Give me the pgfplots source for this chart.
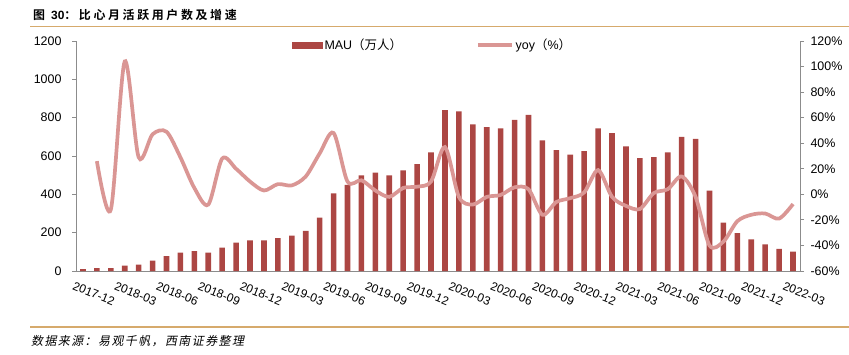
\documentclass[border=0pt]{standalone}
\usepackage{pgfplots}
\pgfplotsset{compat=1.18}
\usepackage{pgfplotstable}
\usepackage{fontspec}
\setmainfont{Liberation Sans}
\newfontfamily\cjk{Noto Sans CJK SC}[BoldFont={Noto Sans CJK SC Bold}]
\newfontfamily\cjktitle{Noto Sans CJK SC Bold}[LetterSpace=22]
\newfontfamily\cjkit{Noto Sans CJK SC}[FakeSlant=0.2,LetterSpace=12]
\definecolor{barred}{RGB}{172,70,67}
\definecolor{linepink}{RGB}{218,150,148}
\definecolor{axgray}{RGB}{140,140,140}
\definecolor{gold}{RGB}{214,170,108}

\pgfplotstableread{
idx mau
0 10
1 15
2 15
3 28
4 33
5 54
6 78
7 96
8 104
9 96
10 122
11 148
12 160
13 160
14 172
15 184
16 209
17 279
18 405
19 450
20 499
21 513
22 499
23 525
24 557
25 619
26 840
27 833
28 765
29 751
30 744
31 789
32 814
33 682
34 631
35 607
36 625
37 744
38 720
39 650
40 589
41 594
42 619
43 700
44 689
45 419
46 252
47 197
48 165
49 139
50 115
51 101
}\maudata

\pgfplotstableread{
idx yoy
1 26
2 -12
3 104
4 29
5 47
6 49
7 29
8 5
9 -8
10 28
11 20
12 10
13 3
14 8
15 7
16 14
17 32
18 48
19 10
20 11
21 3
22 -2
23 5
24 6
25 10
26 37
27 -2
28 -8
29 -2
30 -0.5
31 5.5
32 4
33 -16
34 -6
35 -3
36 1.5
37 19
38 -2
39 -9
40 -11.5
41 1
42 4
43 14
44 -2
45 -40
46 -37
47 -21
48 -16
49 -15
50 -19
51 -7.6
}\yoydata

\begin{document}
\begin{tikzpicture}
\path[use as bounding box] (0bp,0bp) rectangle (849bp,-355bp);
\node[anchor=base west, inner sep=0] at (33bp,-19bp) {\fontsize{12}{14}\selectfont{\cjktitle 图} \textbf{30}{\cjktitle ：比心月活跃用户数及增速}};
\draw[gold, line width=1.6bp] (30bp,-26.5bp) -- (849bp,-26.5bp);
\draw[gold, line width=1.6bp] (30bp,-327bp) -- (849bp,-327bp);
\node[anchor=base west, inner sep=0] at (31bp,-345bp) {\fontsize{12}{14}\selectfont\cjkit 数据来源：易观千帆，西南证券整理};

\begin{axis}[
  at={(76bp,-271bp)}, anchor=south west, scale only axis,
  width=724bp, height=230bp,
  xmin=-0.5, xmax=51.5, ymin=0, ymax=1200,
  axis x line*=bottom, axis y line*=left,
  axis line style={draw=axgray, line width=0.9bp, -},
  ytick={0,200,...,1200},
  tick align=outside, major tick length=4bp,
  ytick style={draw=axgray, line width=0.9bp},
  xtick={0,3,...,51}, xtick style={draw=none},
  xticklabels={2017-12,2018-03,2018-06,2018-09,2018-12,2019-03,2019-06,2019-09,2019-12,2020-03,2020-06,2020-09,2020-12,2021-03,2021-06,2021-09,2021-12,2022-03},
  xticklabel style={rotate=-22, anchor=north west, font=\fontsize{12}{14}\selectfont, inner sep=1bp, xshift=-6bp, yshift=-8bp},
  yticklabel style={font=\fontsize{12.5}{14}\selectfont, xshift=-7bp},
  /pgf/number format/assume math mode=true,
  /pgf/number format/1000 sep={},
  ybar, bar width=5.6bp,
]
\addplot[fill=barred, draw=none] table[x=idx,y=mau]{\maudata};
\end{axis}

\begin{axis}[
  at={(76bp,-271bp)}, anchor=south west, scale only axis,
  width=724bp, height=230bp,
  xmin=-0.5, xmax=51.5, ymin=-60, ymax=120,
  axis y line*=right, axis x line=none,
  axis line style={draw=axgray, line width=0.9bp, -},
  ytick={-60,-40,...,120},
  tick align=outside, major tick length=4bp,
  ytick style={draw=axgray, line width=0.9bp},
  yticklabel={\pgfmathprintnumber{\tick}\%},
  yticklabel style={font=\fontsize{12.5}{14}\selectfont, xshift=3bp},
  /pgf/number format/assume math mode=true,
  legend style={at={(0.2983,1)}, anchor=north west, yshift=4bp, inner sep=0pt, draw=none, fill=none,
    font=\fontsize{12.5}{14}\selectfont, legend columns=2,
    /tikz/every even column/.append style={column sep=72bp}},
  legend cell align=left,
]
\addlegendimage{legend image code/.code={\fill[barred] (0bp,-3bp) rectangle (30bp,3bp);}}
\addlegendentry{MAU{\cjk（万人）}}
\addplot[linepink, line width=3.7bp, smooth, mark=none,
  legend image code/.code={\draw[linepink, line width=3.7bp] (0bp,0bp) -- (34bp,0bp);}]
  table[x=idx,y=yoy]{\yoydata};
\addlegendentry{yoy{\cjk（}\%{\cjk）}}
\end{axis}
\end{tikzpicture}
\end{document}
